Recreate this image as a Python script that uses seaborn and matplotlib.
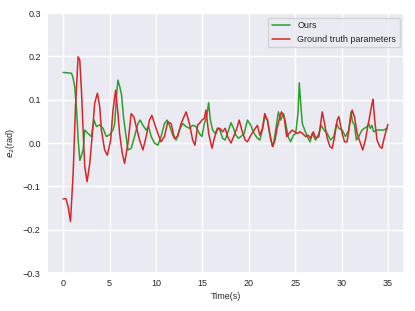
import pandas as pd
import matplotlib
matplotlib.use('Agg')
import matplotlib.pyplot as plt
import seaborn as sns

# values
t_ours = [0.0, 0.5, 0.9, 1.05, 1.25, 1.45, 1.62, 1.8, 1.95, 2.15, 2.33, 2.69, 3.04, 3.33, 3.58,
          3.94, 4.3, 4.65, 5.01, 5.37, 5.55, 5.75, 5.9, 6.1, 6.3, 6.5, 6.75, 6.98, 7.33, 7.69,
          8.05, 8.3, 8.59, 8.94, 9.2, 9.48, 9.84, 10.2, 10.55, 10.91, 11.2, 11.45, 11.81, 12.16,
          12.52, 12.88, 13.24, 13.6, 13.95, 14.31, 14.67, 14.95, 15.2, 15.45, 15.67, 15.85, 16.1,
          16.38, 16.63, 16.88, 17.17, 17.45, 17.82, 18.07, 18.35, 18.6, 18.89, 19.14, 19.49,
          19.85, 20.21, 20.57, 20.92, 21.18, 21.46, 21.71, 22.0, 22.36, 22.61, 22.89, 23.18,
          23.43, 23.72, 23.97, 24.22, 24.5, 24.79, 25.04, 25.29, 25.43, 25.58, 25.76, 26.01,
          26.29, 26.58, 26.83, 27.19, 27.54, 27.79, 28.08, 28.44, 28.79, 29.15, 29.44, 29.69,
          30.05, 30.4, 30.76, 31.0, 31.15, 31.37, 31.58, 31.83, 32.19, 32.44, 32.73, 32.91,
          33.09, 33.26, 33.44, 33.8, 34.16, 34.52, 34.87]
e2_ours = [0.163, 0.162, 0.161, 0.152, 0.13, 0.076, 0.007, -0.04, -0.03, -0.016, 0.03, 0.022,
           0.015, 0.053, 0.038, 0.042, 0.034, 0.015, 0.019, 0.03, 0.045, 0.11, 0.145, 0.13, 0.11,
           0.06, 0.02, -0.016, -0.012, 0.015, 0.045, 0.053, 0.041, 0.03, 0.038, 0.015, 0.0,
           -0.005, 0.015, 0.045, 0.053, 0.041, 0.018, 0.007, 0.03, 0.045, 0.038, 0.034, 0.041,
           0.038, 0.022, 0.015, 0.045, 0.061, 0.093, 0.053, 0.03, 0.022, 0.034, 0.03, 0.011,
           0.007, 0.03, 0.047, 0.034, 0.018, 0.011, 0.015, 0.022, 0.053, 0.041, 0.022, 0.011,
           0.007, 0.03, 0.061, 0.053, 0.007, -0.008, 0.03, 0.072, 0.053, 0.068, 0.045, 0.015,
           0.003, 0.018, 0.022, 0.068, 0.139, 0.092, 0.045, 0.03, 0.015, 0.003, 0.022, 0.007,
           0.022, 0.041, 0.03, 0.022, 0.007, 0.015, 0.045, 0.034, 0.03, 0.015, 0.03, 0.072, 0.05,
           0.041, 0.007, 0.015, 0.03, 0.034, 0.038, 0.045, 0.034, 0.041, 0.026, 0.03, 0.03, 0.03,
           0.034]

t_gt = [0.0, 0.29, 0.54, 0.79, 1.08, 1.33, 1.61, 1.79, 1.97, 2.15, 2.33, 2.58, 2.87, 3.12, 3.4,
        3.69, 3.94, 4.12, 4.47, 4.76, 5.12, 5.37, 5.65, 5.9, 6.08, 6.37, 6.62, 6.98, 7.33, 7.62,
        7.87, 8.23, 8.59, 8.94, 9.3, 9.55, 9.84, 10.2, 10.55, 10.91, 11.27, 11.63, 11.98, 12.34,
        12.7, 13.24, 13.6, 13.95, 14.2, 14.49, 14.67, 14.95, 15.2, 15.38, 15.67, 16.03, 16.28,
        16.63, 16.88, 17.17, 17.45, 17.71, 18.07, 18.42, 18.71, 18.96, 19.24, 19.6, 19.85,
        20.21, 20.57, 20.92, 21.18, 21.46, 21.71, 22.0, 22.25, 22.54, 22.82, 23.0, 23.25, 23.5,
        23.79, 24.07, 24.32, 24.68, 24.93, 25.22, 25.5, 25.79, 26.11, 26.4, 26.65, 26.94,
        27.19, 27.54, 27.9, 28.15, 28.44, 28.73, 28.98, 29.23, 29.51, 29.69, 30.05, 30.3,
        30.58, 30.87, 31.12, 31.37, 31.66, 32.01, 32.26, 32.55, 32.8, 33.01, 33.27, 33.37,
        33.55, 33.8, 34.09, 34.34, 34.52, 34.8, 34.98]
e2_gt = [-0.129, -0.128, -0.147, -0.181, -0.07, 0.084, 0.199, 0.192, 0.122, 0.03, -0.055,
         -0.089, -0.047, 0.015, 0.092, 0.115, 0.084, 0.03, -0.016, -0.028, 0.007, 0.076, 0.122,
         0.069, 0.022, -0.024, -0.047, 0.0, 0.068, 0.06, 0.038, 0.007, -0.016, 0.015, 0.053,
         0.064, 0.045, 0.022, 0.003, 0.015, 0.049, 0.045, 0.011, 0.015, 0.045, 0.072, 0.045,
         0.007, -0.005, 0.042, 0.045, 0.053, 0.057, 0.076, 0.022, -0.012, 0.011, 0.034, 0.034,
         0.026, 0.034, 0.015, 0.0, 0.018, 0.034, 0.053, 0.03, 0.007, 0.003, 0.018, 0.03, 0.041,
         0.018, 0.034, 0.068, 0.053, 0.022, -0.008, 0.007, 0.03, 0.053, 0.072, 0.061, 0.015,
         0.022, 0.03, 0.026, 0.022, 0.026, 0.022, 0.015, 0.018, 0.011, 0.026, 0.011, 0.015,
         0.072, 0.045, 0.011, -0.008, -0.012, 0.015, 0.053, 0.061, 0.022, 0.003, 0.003, 0.045,
         0.076, 0.061, 0.022, 0.0, -0.016, 0.007, 0.038, 0.061, 0.092, 0.101, 0.053, 0.007,
         -0.008, -0.012, 0.007, 0.03, 0.043]

y_ticks = [-0.3, -0.2, -0.1, 0.0, 0.1, 0.2, 0.3]
x_ticks = [0, 5, 10, 15, 20, 25, 30, 35]

sns.set_theme(style='darkgrid')
plt.rcParams['font.family'] = ['Liberation Sans', 'DejaVu Sans']

ours = pd.DataFrame({'t': t_ours, 'e2': e2_ours})
gt = pd.DataFrame({'t': t_gt, 'e2': e2_gt})

fig = plt.figure(figsize=(4.15, 3.11), dpi=100)
ax = fig.add_axes([0.113, 0.122, 0.861, 0.836])

sns.lineplot(x='t', y='e2', data=ours, color='#2ca02c', linewidth=1.1, label='Ours', ax=ax)
sns.lineplot(x='t', y='e2', data=gt, color='#d62728', linewidth=1.1,
             label='Ground truth parameters', ax=ax)

ax.set_ylim(-0.3, 0.3)
ax.set_yticks(y_ticks)
ax.set_xticks(x_ticks)
ax.tick_params(labelsize=6.5, length=0, pad=4.5)
ax.set_xlabel('Time(s)', fontsize=6.5, labelpad=3)
ax.set_ylabel('$e_2$(rad)', fontsize=6.5, labelpad=4)
ax.legend(loc='upper right', fontsize=6.5)

fig.savefig('out.png', dpi=100)
